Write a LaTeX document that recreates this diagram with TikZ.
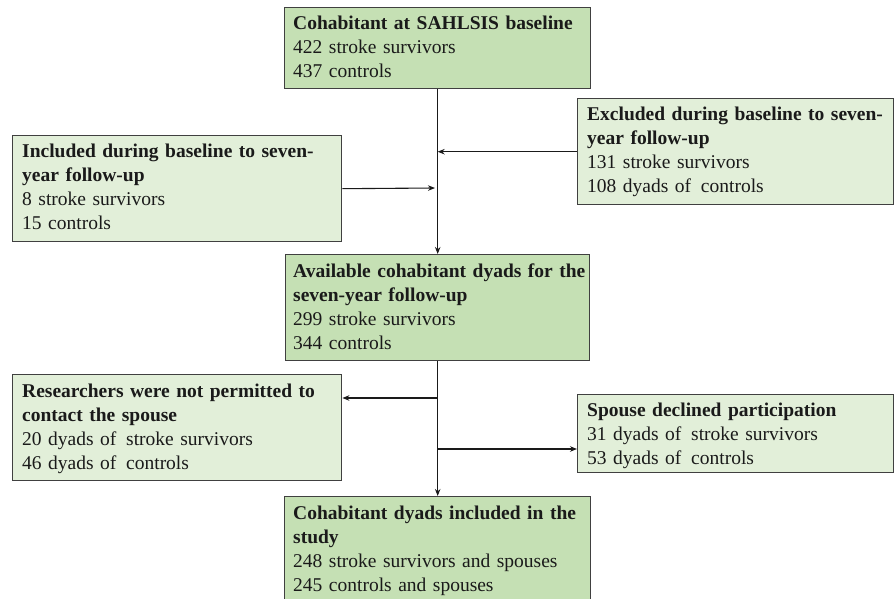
\documentclass[tikz,border=0pt]{standalone}
\usepackage{fontspec}
\setmainfont{Liberation Serif}
\usetikzlibrary{arrows.meta}
\definecolor{darkfill}{HTML}{C5E0B4}
\definecolor{lightfill}{HTML}{E2EFD9}
\definecolor{edge}{HTML}{404040}
\definecolor{ink}{HTML}{1A1A1A}
\begin{document}
\begin{tikzpicture}[x=1pt,y=-1pt,
  box/.style={draw=edge, line width=1.4pt, anchor=north west, inner sep=0pt},
  dark/.style={box, fill=darkfill},
  light/.style={box, fill=lightfill},
  txt/.style={anchor=base west, inner sep=0pt, align=left, text width=420pt, text=ink,
    font=\fontsize{19.5}{24}\selectfont},
  conn/.style={draw=ink, line width=1.1pt, -{Stealth[length=7pt,width=5.5pt]}}
]
\useasboundingbox (0,0) rectangle (895,599);

% boxes
\node[dark,  minimum width=306pt, minimum height=81pt]  (A) at (284,7) {};
\node[light, minimum width=316pt, minimum height=106pt] (B) at (577,98) {};
\node[light, minimum width=329pt, minimum height=106pt] (C) at (12,135) {};
\node[dark,  minimum width=304pt, minimum height=106pt] (D) at (285,254) {};
\node[light, minimum width=329pt, minimum height=106pt] (E) at (12,374) {};
\node[light, minimum width=316pt, minimum height=78pt]  (F) at (577,394) {};
\node[dark,  minimum width=306pt, minimum height=110pt] (G) at (284,496) {};

% texts
\node[txt] (At) at ([shift={(9,23)}]A.north west)
  {\textbf{Cohabitant at SAHLSIS baseline}\\422 stroke survivors\\437 controls};
\node[txt] (Bt) at ([shift={(10,23)}]B.north west)
  {\textbf{Excluded during baseline to seven-}\\\textbf{year follow-up}\\131 stroke survivors\\108 dyads of\, controls};
\node[txt] (Ct) at ([shift={(10,23)}]C.north west)
  {\textbf{Included during baseline to seven-}\\\textbf{year follow-up}\\8 stroke survivors\\15 controls};
\node[txt] (Dt) at ([shift={(8,23)}]D.north west)
  {\textbf{Available cohabitant dyads for the}\\\textbf{seven-year follow-up}\\299 stroke survivors\\344 controls};
\node[txt] (Et) at ([shift={(10,23)}]E.north west)
  {\textbf{Researchers were not permitted to}\\\textbf{contact the spouse}\\20 dyads of\, stroke survivors\\46 dyads of\, controls};
\node[txt] (Ft) at ([shift={(10,22)}]F.north west)
  {\textbf{Spouse declined participation}\\31 dyads of\, stroke survivors\\53 dyads of\, controls};
\node[txt] (Gt) at ([shift={(9,23)}]G.north west)
  {\textbf{Cohabitant dyads included in the}\\\textbf{study}\\248 stroke survivors and spouses\\245 controls and spouses};

% junctions on the trunk
\coordinate (jB) at (A.south |- B.west);
\coordinate (jC) at (435,188);
\coordinate (jE) at (437,398);
\coordinate (jF) at (437,449);

% connectors
\draw[conn] (A.south) -- (D.north);
\draw[conn] (B.west) -- (jB);
\draw[conn] (C.east) -- (jC);
\draw[conn] (D.south) -- (G.north);
\draw[conn] (jE) -- (E.east |- jE);
\draw[conn] (jF) -- (F.west |- jF);
\end{tikzpicture}
\end{document}
